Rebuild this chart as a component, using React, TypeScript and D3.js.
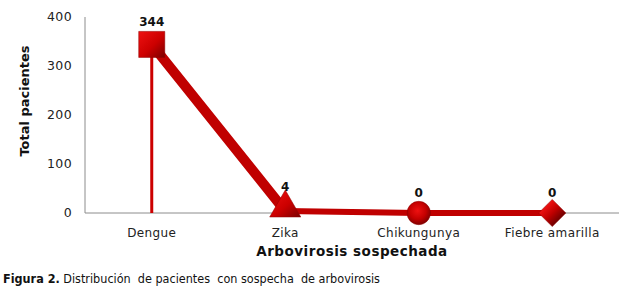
import React from "react";
import * as d3 from "d3";

const categories = ["Dengue", "Zika", "Chikungunya", "Fiebre amarilla"];
const values = [344, 4, 0, 0];
const markers = ["square", "triangle", "circle", "diamond"];
const yTicks = [0, 100, 200, 300, 400];

const width = 623;
const height = 289;
const margin = { top: 17, right: 4, bottom: 76, left: 85 };
const font = "'DejaVu Sans', Verdana, sans-serif";

const segWidths = [10, 6, 6];

const App = () => {
  const x = d3
    .scaleBand()
    .domain(categories)
    .range([margin.left, width - margin.right]);

  const y = d3
    .scaleLinear()
    .domain([0, 400])
    .range([height - margin.bottom, margin.top]);

  const cx = (c: string) => (x(c) as number) + x.bandwidth() / 2;

  const symbolFor = (m: string) => {
    if (m === "square") return d3.symbol(d3.symbolSquare, 680)();
    if (m === "triangle") return d3.symbol(d3.symbolTriangle, 420)();
    if (m === "circle") return d3.symbol(d3.symbolCircle, 430)();
    return d3.symbol(d3.symbolSquare, 370)();
  };

  const pts = categories.map((c, i) => ({ c, v: values[i], m: markers[i] }));

  return (
    <svg
      width={width}
      height={height}
      style={{ position: "absolute", left: 0, top: 0, background: "#fff" }}
      fontFamily={font}
    >
      <defs>
        <linearGradient id="mk" x1="0" y1="0" x2="1" y2="1">
          <stop offset="0%" stopColor="#ee1111" />
          <stop offset="55%" stopColor="#cc0000" />
          <stop offset="100%" stopColor="#7a0000" />
        </linearGradient>
        <linearGradient id="mkd" x1="0" y1="0" x2="1" y2="0">
          <stop offset="0%" stopColor="#ee1111" />
          <stop offset="50%" stopColor="#c00000" />
          <stop offset="100%" stopColor="#700000" />
        </linearGradient>
        <radialGradient id="mkc" cx="0.45" cy="0.4" r="0.6">
          <stop offset="0%" stopColor="#ee1111" />
          <stop offset="60%" stopColor="#c40000" />
          <stop offset="100%" stopColor="#800000" />
        </radialGradient>
      </defs>

      {/* axes */}
      <line
        x1={margin.left}
        x2={margin.left}
        y1={y(400)}
        y2={y(0)}
        stroke="#8c8c8c"
      />
      <line
        x1={margin.left}
        x2={width - margin.right}
        y1={y(0)}
        y2={y(0)}
        stroke="#8c8c8c"
      />
      {yTicks.map((t) => (
        <text
          key={t}
          x={margin.left - 13}
          y={y(t)}
          dy="0.35em"
          textAnchor="end"
          fontSize={12.5}
          letterSpacing={0.4}
          fill="#222"
        >
          {t}
        </text>
      ))}
      {categories.map((c) => (
        <text
          key={c}
          x={cx(c)}
          y={y(0) + 24}
          textAnchor="middle"
          fontSize={12}
          letterSpacing={0.4}
          fill="#222"
        >
          {c}
        </text>
      ))}

      <text
        transform={`translate(29,101) rotate(-90)`}
        textAnchor="middle"
        fontSize={13}
        fontWeight="bold"
        fill="#111"
      >
        Total pacientes
      </text>
      <text
        x={(margin.left + width - margin.right) / 2}
        y={y(0) + 43}
        textAnchor="middle"
        fontSize={13.5}
        letterSpacing={0.5}
        fontWeight="bold"
        fill="#111"
      >
        Arbovirosis sospechada
      </text>

      {/* drop line */}
      <line
        x1={cx(categories[0])}
        x2={cx(categories[0])}
        y1={y(values[0])}
        y2={y(0)}
        stroke="#cc0000"
        strokeWidth={3}
      />

      {/* line segments */}
      {pts.slice(1).map((p, i) => (
        <line
          key={p.c}
          x1={cx(pts[i].c)}
          y1={y(pts[i].v)}
          x2={cx(p.c)}
          y2={y(p.v)}
          stroke="#c00000"
          strokeWidth={segWidths[i]}
          strokeLinecap="round"
        />
      ))}

      {/* markers */}
      {pts.map((p) => (
        <path
          key={p.c}
          d={symbolFor(p.m) as string}
          transform={`translate(${cx(p.c)},${y(p.v) + (p.m === "triangle" ? -3 : 0)})${p.m === "diamond" ? " rotate(45)" : ""}`}
          fill={p.m === "circle" ? "url(#mkc)" : p.m === "diamond" ? "url(#mkd)" : "url(#mk)"}
          stroke="#900000"
          strokeWidth={0.5}
        />
      ))}

      {/* data labels */}
      {pts.map((p) => (
        <text
          key={p.c}
          x={cx(p.c)}
          y={y(p.v) - (p.m === "square" ? 18 : p.m === "triangle" ? 20 : 16)}
          textAnchor="middle"
          fontSize={12}
          fontWeight="bold"
          fill="#111"
        >
          {p.v}
        </text>
      ))}

      {/* caption */}
      <text x={3} y={283} fontSize={12.5} fontFamily="'DejaVu Sans Condensed', Tahoma, sans-serif" fill="#111">
        <tspan fontWeight="bold">Figura 2.</tspan>
        <tspan xmlSpace="preserve"> Distribución  de pacientes  con sospecha  de arbovirosis</tspan>
      </text>
    </svg>
  );
};

export default App;
